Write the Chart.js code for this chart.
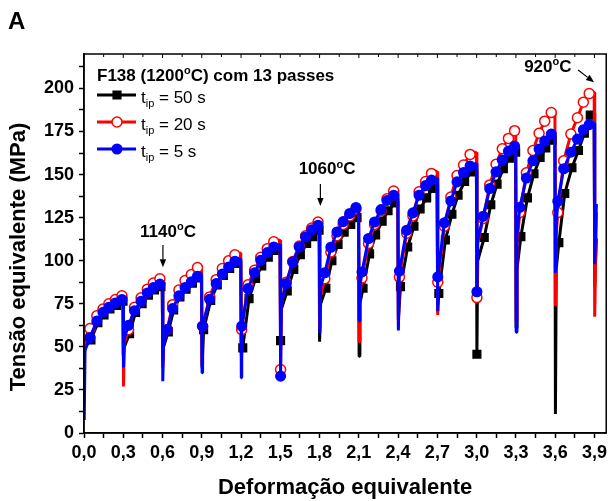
<!DOCTYPE html>
<html>
<head>
<meta charset="utf-8">
<script src="https://cdn.jsdelivr.net/npm/chart.js@4.4.1/dist/chart.umd.min.js"></script>
<style>
  body { margin: 0; background: #fff; }
  #wrap { width: 611px; height: 501px; }
</style>
</head>
<body>
<div id="wrap"><canvas id="chart" width="611" height="501"></canvas></div>
<script>
// --- data ---
const strainLabels = ['0,0', '0,3', '0,6', '0,9', '1,2', '1,5', '1,8', '2,1', '2,4', '2,7', '3,0', '3,3', '3,6', '3,9'];
const stressLabels = ['0', '25', '50', '75', '100', '125', '150', '175', '200'];

// start strain of each of the 13 passes
const passStart = [0, 0.3, 0.6, 0.9, 1.2, 1.5, 1.8, 2.1, 2.4, 2.7, 3.0, 3.3, 3.6];
// strain of the plotted symbols in each pass
const markerStrain = [
    [0.045, 0.098, 0.145, 0.19, 0.24, 0.29],
    [0.34, 0.386, 0.436, 0.484, 0.53, 0.58],
    [0.636, 0.677, 0.725, 0.772, 0.82, 0.867],
    [0.906, 0.96, 1.01, 1.057, 1.105, 1.153],
    [1.205, 1.253, 1.303, 1.35, 1.40, 1.45],
    [1.545, 1.595, 1.645, 1.693, 1.74, 1.788],
    [1.84, 1.886, 1.933, 1.98, 2.03, 2.078],
    [2.124, 2.174, 2.22, 2.27, 2.315, 2.366],
    [2.41, 2.465, 2.513, 2.56, 2.61, 2.655],
    [2.703, 2.753, 2.803, 2.85, 2.9, 2.95],
    [3.05, 3.1, 3.148, 3.196, 3.243, 3.29],
    [3.33, 3.38, 3.43, 3.477, 3.52, 3.57],
    [3.62, 3.665, 3.72, 3.77, 3.815, 3.86]
];
// passes whose drop minimum carries a symbol
const markedDrops = [5, 10];

// t_ip = 50 s
const t50Bottom = [45, 45, 42, 38, 48, 53.6, 53, 44.6, 66, 70, 45.7, 61, 11];
const t50Knee = [50, 50, 50, null, null, 72, 75, 75, null, null, 100, 95, 95];
const t50Curve = [
    [54, 64, 68.5, 72, 74, 76.5],
    [57.7, 70, 75, 80, 83, 85],
    [58.7, 71.5, 79, 83.5, 87, 90],
    [60, 77, 86, 91.5, 95.5, 98.5],
    [49.4, 78, 89.7, 97, 102, 106],
    [82.5, 95, 103.5, 110, 114, 117.7],
    [84, 100, 109.5, 116.5, 121, 125],
    [84, 104, 115, 123, 129, 133.5],
    [85, 108, 120, 130, 136.5, 142],
    [81, 112, 127, 138, 146, 151.5],
    [113.5, 132.5, 144.5, 153.5, 159.5, 163],
    [114, 136.5, 150.5, 160, 165.5, 170],
    [110.5, 139, 154, 164, 174, 184.5]
];
const t50Peak = [78, 86, 91, 100, 107, 118.5, 126, 134.5, 144, 153, 165, 171.5, 186];
const t50Tail = [85, 113];

// t_ip = 20 s
const t20Bottom = [48, 27, 38, 40, 45, 36.8, 60, 53, 62, 68.5, 78.6, 65, 73.6];
const t20Knee = [55, 52, 52, null, null, 75, 80, 80, null, null, 110, 110, 115];
const t20Curve = [
    [60.6, 68, 72, 75, 77.5, 79.6],
    [60, 73, 78.5, 83.5, 87, 89.5],
    [60, 74.5, 83, 88.5, 92, 96],
    [62, 79, 89, 95.5, 100, 103.5],
    [60, 86, 94.5, 102, 107, 111],
    [87.5, 99.5, 108.5, 114.5, 119, 122.5],
    [89.5, 105, 114.5, 121, 126, 130],
    [90, 110, 121, 129, 136, 140.5],
    [90.5, 116, 126, 140, 146, 150.7],
    [87.5, 120, 137, 149.5, 155.5, 161.7],
    [124.5, 144, 156, 165, 171, 175.5],
    [128, 151, 164, 174, 181, 186],
    [128, 158, 173.5, 183, 192, 197]
];
const t20Peak = [80.5, 90.5, 96.5, 104.5, 112, 123.5, 131, 141, 152, 163, 176.5, 187, 198];
const t20Tail = [67.5, 128];

// t_ip = 5 s
const t5Bottom = [7.5, 38, 30, 35, 32, 33, 58, 65, 59.5, 71, 82, 58.5, 93];
const t5Knee = [48, 55, 52, null, null, 75, 85, 85, null, null, 112, 115, 120];
const t5Curve = [
    [55.4, 65, 70, 73, 75.5, 77.5],
    [62.5, 71, 76.5, 81.3, 84.4, 86.4],
    [60, 72.2, 79.6, 84.4, 87.7, 91],
    [62, 77.6, 86.7, 92.2, 96.4, 99.7],
    [62, 83.8, 93, 100.3, 104.7, 108],
    [86.7, 99.3, 108, 113.8, 118, 120.6],
    [93, 107.8, 116.7, 122.7, 127.4, 130.9],
    [93.5, 112.9, 122.5, 129.7, 135, 138],
    [94, 117.7, 127.8, 138, 143.6, 146.8],
    [90.6, 122, 134.7, 145.8, 151.2, 155],
    [125.8, 141.9, 151.6, 158.4, 163.6, 166.5],
    [131, 148, 158, 164.8, 169.4, 173.5],
    [134.5, 153.4, 163, 170.6, 176, 179]
];
const t5Peak = [79, 87.5, 92, 101, 109.5, 121.5, 131.5, 139, 148, 156.5, 167.5, 174.5, 180];
const t5Tail = [98, 133];

const seriesNames = ['50 s', '20 s', '5 s'];

// temperature notes: text centre and arrow ends, in data units
const tempLabels = ['1140', '1060', '920'];
const tempTextAt = [[0.642, 117.4], [1.857, 153.6], [3.544, 212.9]];
const tempArrowFrom = [[0.603, 109.1], [1.806, 144.5], [3.775, 210.7]];
const tempArrowTo = [[0.603, 96.2], [1.806, 131.8], [3.897, 203.6]];

// --- build line points (m = draw a symbol) ---
const buildSeries = (bottom, knee, curve, peak, tail, lag) => {
    const pts = [];
    passStart.forEach((x0, i) => {
        pts.push({ x: x0 + 0.002, y: bottom[i], m: markedDrops.includes(i) });
        if (knee[i] !== null) pts.push({ x: x0 + 0.008, y: knee[i], m: false });
        curve[i].forEach((y, j) => pts.push({ x: markerStrain[i][j] + lag, y: y, m: true }));
        pts.push({ x: x0 + 0.298, y: peak[i], m: false });
    });
    pts.push({ x: 3.902, y: tail[0], m: false });
    pts.push({ x: 3.915, y: tail[1], m: false });
    return pts;
};

const FONT = '"Liberation Sans", Arial, sans-serif';
Chart.defaults.font.family = FONT;
Chart.defaults.color = '#000';

const markerRadius = (r) => (ctx) => (ctx.raw && ctx.raw.m ? r : 0);

const datasetStyle = (color, style, fill, r) => ({
    showLine: true,
    borderColor: color,
    backgroundColor: color,
    borderWidth: 3,
    borderJoinStyle: 'bevel',
    pointStyle: style,
    pointBackgroundColor: fill,
    pointBorderColor: color,
    pointBorderWidth: 1.5,
    pointRadius: markerRadius(r),
    pointHoverRadius: 0,
    legendRadius: r
});

// rich text: segments with optional superscript / subscript
const richText = (ctx, segs, x, y, size, bold, align) => {
    const fontOf = (s) => `${bold ? 'bold ' : ''}${s.sup || s.sub ? Math.round(size * 0.64) : size}px ${FONT}`;
    let w = 0;
    segs.forEach((s) => { ctx.font = fontOf(s); w += ctx.measureText(s.t).width; });
    let cx = align === 'center' ? x - w / 2 : x;
    ctx.textAlign = 'left';
    ctx.textBaseline = 'alphabetic';
    segs.forEach((s) => {
        ctx.font = fontOf(s);
        const dy = s.sup ? -size * 0.4 : s.sub ? size * 0.22 : 0;
        ctx.fillText(s.t, cx, y + dy);
        cx += ctx.measureText(s.t).width;
    });
};

const arrow = (ctx, x1, y1, x2, y2) => {
    const a = Math.atan2(y2 - y1, x2 - x1);
    const len = 8, half = 3.2;
    ctx.beginPath();
    ctx.moveTo(x1, y1);
    ctx.lineTo(x2 - Math.cos(a) * len, y2 - Math.sin(a) * len);
    ctx.lineWidth = 1.2;
    ctx.stroke();
    ctx.beginPath();
    ctx.moveTo(x2, y2);
    ctx.lineTo(x2 - Math.cos(a) * len - Math.sin(a) * half, y2 - Math.sin(a) * len + Math.cos(a) * half);
    ctx.lineTo(x2 - Math.cos(a) * len + Math.sin(a) * half, y2 - Math.sin(a) * len - Math.cos(a) * half);
    ctx.closePath();
    ctx.fill();
};

const decor = {
    id: 'decor',
    afterDraw(chart) {
        const { ctx, chartArea: ca, scales: { x, y } } = chart;
        ctx.save();
        ctx.strokeStyle = '#000';
        ctx.fillStyle = '#000';

        // frame + inner ticks on top edge
        ctx.lineWidth = 1.5;
        ctx.strokeRect(ca.left, ca.top, ca.right - ca.left, ca.bottom - ca.top);
        ctx.lineWidth = 1;
        x.ticks.forEach((t, i) => {
            const px = x.getPixelForValue(t.value);
            ctx.beginPath();
            ctx.moveTo(px, ca.top);
            ctx.lineTo(px, ca.top + (i % 2 === 0 ? 4 : 3));
            ctx.stroke();
        });

        // panel letter
        ctx.font = `bold 24px ${FONT}`;
        ctx.textAlign = 'left';
        ctx.textBaseline = 'alphabetic';
        ctx.fillText('A', 8, 29);

        // y title
        ctx.save();
        ctx.translate(19, 257);
        ctx.rotate(-Math.PI / 2);
        ctx.font = `bold 22px ${FONT}`;
        ctx.textAlign = 'center';
        ctx.textBaseline = 'middle';
        ctx.fillText('Tensão equivalente (MPa)', 0, 0);
        ctx.restore();

        // legend (50 s, 20 s, 5 s from top)
        const lx = ca.left + 13;
        richText(ctx, [{ t: 'F138 (1200' }, { t: 'o', sup: true }, { t: 'C) com 13 passes' }], lx, 81, 17, true, 'left');
        const rows = [95, 122, 149];
        [2, 1, 0].forEach((di, k) => {
            const ds = chart.data.datasets[di];
            const ry = rows[k];
            ctx.strokeStyle = ds.borderColor;
            ctx.lineWidth = 3;
            ctx.beginPath();
            ctx.moveTo(lx, ry);
            ctx.lineTo(lx + 39, ry);
            ctx.stroke();
            ctx.fillStyle = ds.pointBackgroundColor;
            ctx.strokeStyle = ds.pointBorderColor;
            ctx.lineWidth = 1.5;
            ctx.beginPath();
            if (ds.pointStyle === 'rect') {
                const s = ds.legendRadius * Math.SQRT1_2;
                ctx.rect(lx + 20 - s, ry - s, 2 * s, 2 * s);
            } else {
                ctx.arc(lx + 20, ry, ds.legendRadius, 0, Math.PI * 2);
            }
            ctx.fill();
            ctx.stroke();
            ctx.fillStyle = '#000';
            richText(ctx, [{ t: 't' }, { t: 'ip', sub: true }, { t: ' = ' + seriesNames[k] }], lx + 44, ry + 8, 17, false, 'left');
        });

        // temperature notes
        ctx.fillStyle = '#000';
        ctx.strokeStyle = '#000';
        tempLabels.forEach((lab, i) => {
            const tx = x.getPixelForValue(tempTextAt[i][0]);
            const ty = y.getPixelForValue(tempTextAt[i][1]);
            richText(ctx, [{ t: lab }, { t: 'o', sup: true }, { t: 'C' }], tx, ty + 6, 17, true, 'center');
            arrow(ctx,
                x.getPixelForValue(tempArrowFrom[i][0]), y.getPixelForValue(tempArrowFrom[i][1]),
                x.getPixelForValue(tempArrowTo[i][0]), y.getPixelForValue(tempArrowTo[i][1]));
        });
        ctx.restore();
    }
};

const axisCommon = {
    grid: { drawOnChartArea: false, drawTicks: true, tickLength: 5, tickColor: '#000', tickWidth: 1.5 },
    border: { display: true, color: '#000', width: 1.5 }
};

new Chart(document.getElementById('chart'), {
    type: 'scatter',
    data: {
        datasets: [
            Object.assign({ label: 't_ip = 5 s', data: buildSeries(t5Bottom, t5Knee, t5Curve, t5Peak, t5Tail, 0) },
                datasetStyle('#0000ff', 'circle', '#0000ff', 4.8)),
            Object.assign({ label: 't_ip = 20 s', data: buildSeries(t20Bottom, t20Knee, t20Curve, t20Peak, t20Tail, 0) },
                datasetStyle('#ff0000', 'circle', '#ffffff', 5)),
            Object.assign({ label: 't_ip = 50 s', data: buildSeries(t50Bottom, t50Knee, t50Curve, t50Peak, t50Tail, 0.008) },
                datasetStyle('#000000', 'rect', '#000000', 5.4))
        ]
    },
    options: {
        responsive: false,
        animation: false,
        devicePixelRatio: 1,
        layout: { padding: { top: 54, right: 2, left: 0, bottom: 0 } },
        plugins: { legend: { display: false }, tooltip: { enabled: false } },
        scales: {
            x: Object.assign({
                type: 'linear', min: 0, max: 3.99,
                ticks: {
                    stepSize: 0.15, includeBounds: false, autoSkip: false, maxRotation: 0, padding: 4,
                    color: '#000', font: { size: 18, weight: 'bold' },
                    callback: (v, i) => (i % 2 === 0 ? strainLabels[i / 2] : '')
                },
                title: { display: true, text: 'Deformação equivalente', color: '#000', font: { size: 22, weight: 'bold' }, padding: 0 },
                afterFit: (s) => { s.height = 68; }
            }, axisCommon),
            y: Object.assign({
                type: 'linear', min: 0, max: 220,
                ticks: {
                    stepSize: 12.5, includeBounds: false, autoSkip: false, padding: 5,
                    color: '#000', font: { size: 18, weight: 'bold' },
                    callback: (v, i) => (i % 2 === 0 ? stressLabels[i / 2] : '')
                },
                afterFit: (s) => { s.width = 84; }
            }, axisCommon)
        }
    },
    plugins: [decor]
});
</script>
</body>
</html>
